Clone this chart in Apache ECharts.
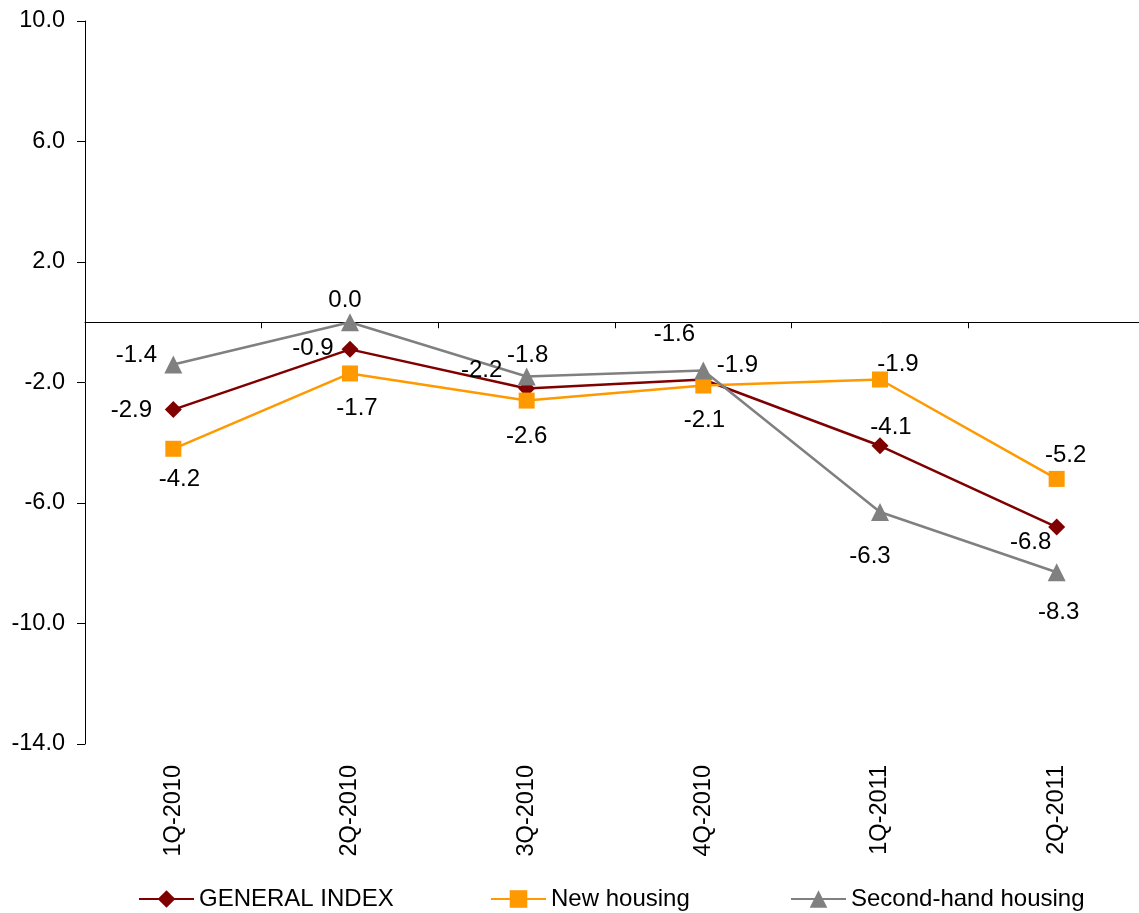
<!DOCTYPE html>
<html>
<head>
<meta charset="utf-8">
<script src="https://cdn.jsdelivr.net/npm/echarts@6/dist/echarts.min.js"></script>
<style>
  html, body { margin: 0; padding: 0; background: #ffffff; overflow: hidden; }
  #chart { width: 1145px; height: 913px; }
</style>
</head>
<body>
<div id="chart"></div>
<script>
// ---- Data ----
const categories = ['1Q-2010', '2Q-2010', '3Q-2010', '4Q-2010', '1Q-2011', '2Q-2011'];
const generalIndex = [-2.9, -0.9, -2.2, -1.9, -4.1, -6.8];
const newHousing = [-4.2, -1.7, -2.6, -2.1, -1.9, -5.2];
const secondHand = [-1.4, 0.0, -1.8, -1.6, -6.3, -8.3];
const seriesNames = ['GENERAL INDEX', 'New housing', 'Second-hand housing'];
const yMin = -14, yMax = 10, yStep = 4;

// ---- Label placement (style, not data): offset of label centre from point ----
const generalLabelOffsets = [[-42, 1], [-37, -1], [-45, -18], [34, -14], [11, -18], [-26, 15]];
const newLabelOffsets = [[6, 31], [7, 35], [0, 36], [1, 35], [18, -15], [9, -24]];
const secondLabelOffsets = [[-37, -9], [-5, -22], [1, -21], [-29, -36], [-10, 44], [2, 40]];

const FONT = '"Liberation Sans", Arial, sans-serif';

function buildData(values, offsets) {
  return values.map((v, i) => ({
    value: v,
    label: { offset: offsets[i] }
  }));
}

function makeSeries(name, values, offsets, color, symbol, size) {
  return {
    name: name,
    type: 'line',
    xAxisIndex: 0,
    yAxisIndex: 0,
    data: buildData(values, offsets),
    symbol: symbol,
    symbolSize: size,
    lineStyle: { color: color, width: 2.5 },
    itemStyle: { color: color },
    animation: false,
    label: {
      show: true,
      position: 'inside',
      align: 'center',
      verticalAlign: 'middle',
      color: '#000',
      fontSize: 24,
      fontFamily: FONT,
      formatter: p => Number(p.value).toFixed(1)
    },
    emphasis: { disabled: true }
  };
}

const chart = echarts.init(document.getElementById('chart'), null, { renderer: 'canvas' });

const legendCommon = {
  top: 887,
  padding: 0,
  itemWidth: 55,
  itemHeight: 22,
  textStyle: { color: '#000', fontSize: 24, fontFamily: FONT },
  selectedMode: false
};

chart.setOption({
  backgroundColor: '#ffffff',
  animation: false,
  grid: { left: 85, right: 0, top: 21, bottom: 169, containLabel: false },
  legend: [
    Object.assign({ data: [seriesNames[0]], left: 138 }, legendCommon),
    Object.assign({ data: [seriesNames[1]], left: 490 }, legendCommon),
    Object.assign({ data: [seriesNames[2]], left: 790 }, legendCommon)
  ],
  xAxis: [
    {
      type: 'category',
      data: categories,
      boundaryGap: true,
      axisLine: { show: true, onZero: true, lineStyle: { color: '#000', width: 1 } },
      axisTick: { show: true, length: 6, interval: 0, lineStyle: { color: '#000' } },
      axisLabel: { show: false },
      splitLine: { show: false }
    },
    {
      type: 'category',
      data: categories,
      position: 'bottom',
      boundaryGap: true,
      axisLine: { show: false, onZero: false },
      axisTick: { show: false },
      axisLabel: {
        show: true,
        interval: 0,
        rotate: 90,
        margin: 21,
        color: '#000',
        fontSize: 23.5,
        fontFamily: FONT
      },
      splitLine: { show: false }
    }
  ],
  yAxis: {
    type: 'value',
    min: yMin,
    max: yMax,
    interval: yStep,
    axisLine: { show: true, lineStyle: { color: '#000', width: 1 } },
    axisTick: { show: true, length: 8, lineStyle: { color: '#000' } },
    axisLabel: {
      margin: 20,
      color: '#000',
      fontSize: 23.5,
      fontFamily: FONT,
      formatter: v => v.toFixed(1)
    },
    splitLine: { show: false }
  },
  series: [
    makeSeries(seriesNames[0], generalIndex, generalLabelOffsets, '#800000', 'diamond', 17),
    makeSeries(seriesNames[1], newHousing, newLabelOffsets, '#FF9900', 'rect', 16),
    makeSeries(seriesNames[2], secondHand, secondLabelOffsets, '#808080', 'triangle', 18)
  ]
});
</script>
</body>
</html>
